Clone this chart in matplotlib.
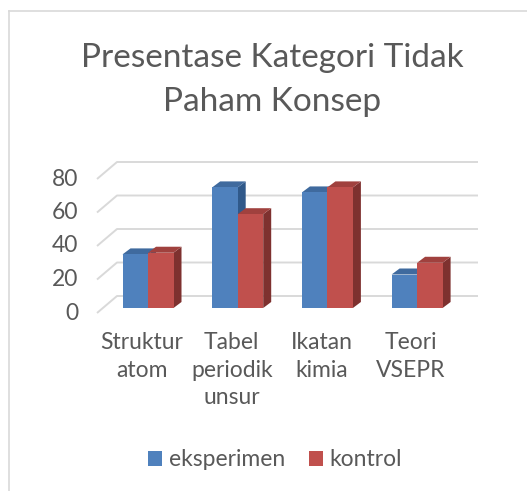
import numpy as np
import matplotlib.pyplot as plt
from matplotlib.patches import Polygon, Patch
from matplotlib.lines import Line2D

plt.rcParams['font.family'] = ['Lato', 'DejaVu Sans']

categories = ["Struktur\natom", "Tabel\nperiodik\nunsur", "Ikatan\nkimia", "Teori\nVSEPR"]
eksperimen = [32, 72, 69, 20]
kontrol = [33, 56, 72, 27]
series_names = ["eksperimen", "kontrol"]
yticks = [0, 20, 40, 60, 80]
title_lines = ["Presentase Kategori Tidak", "Paham Konsep"]

front_cols = ["#4F81BD", "#C0504D"]
top_cols = ["#3F6A9E", "#A0413E"]
side_cols = ["#30598A", "#7E312F"]
grid_col = "#D9D9D9"
text_col = "#595959"

W, H = 527, 491
fig = plt.figure(figsize=(W / 100, H / 100), dpi=100)

# pixel layout of the oblique 3d box
X0, XS = 148, 89.7     # cluster centre 0 in px, px per category
Y0, YS = 308, 1.675    # value 0 in px (bar front plane), px per unit
L, R, T, B = 60, 500, 130, 330
ax = fig.add_axes([L / W, 1 - B / H, (R - L) / W, (B - T) / H])
ax.set_xlim((L - X0) / XS, (R - X0) / XS)
ax.set_ylim((Y0 - B) / YS, (Y0 - T) / YS)
ax.axis("off")

def off(dx, dy):
    # pixel offset (dy up) -> data offset
    return dx / XS, dy / YS

# walls / gridlines
bx, by = off(14, 12)      # back wall relative to bar front plane
fx, fy = off(-6, -5)      # front edge of floor
x_back = (117 - X0) / XS
x_front = (97 - X0) / XS
x_right = (478 - X0) / XS
for v in yticks:
    ax.plot([x_front, x_back, x_right], [v + fy, v + by, v + by],
            color=grid_col, lw=1.4, zorder=1, solid_capstyle="butt")
    ax.text((78 - X0) / XS, v + fy, str(v), ha="right", va="center",
            fontsize=16.5, color=text_col)

# bars
w = 25.5 / XS
ddx, ddy = off(8, 6)
z = 2
for i in range(len(categories)):
    for s, vals in enumerate([eksperimen, kontrol]):
        v = vals[i]
        l = i - w + s * w
        ax.add_patch(Polygon([(l + w, 0), (l + w + ddx, ddy), (l + w + ddx, v + ddy), (l + w, v)],
                             closed=True, facecolor=side_cols[s], edgecolor="none", zorder=z))
        ax.add_patch(Polygon([(l, v), (l + w, v), (l + w + ddx, v + ddy), (l + ddx, v + ddy)],
                             closed=True, facecolor=top_cols[s], edgecolor="none", zorder=z))
        ax.bar(l, v, width=w, align="edge", color=front_cols[s], edgecolor="none", zorder=z + 1)
        z += 2

# category labels
for i, c in enumerate(categories):
    ax.text(i + fx, (Y0 - 332) / YS, c, ha="center", va="top", fontsize=16.5,
            color=text_col, linespacing=1.39)

# title
fig.text(272 / W, 1 - 67 / H, title_lines[0], ha="center", va="baseline", fontsize=24, color=text_col)
fig.text(272 / W, 1 - 111 / H, title_lines[1], ha="center", va="baseline", fontsize=24, color=text_col)

# legend
handles = [Patch(facecolor=front_cols[k], edgecolor="none") for k in range(2)]
fig.legend(handles, series_names, loc="center", bbox_to_anchor=(275 / W, 1 - 460 / H),
           ncol=2, frameon=False, fontsize=16.5, handlelength=0.62, handleheight=0.62,
           handletextpad=0.28, columnspacing=1.05, labelcolor=text_col)

# chart border (top and left visible)
fig.add_artist(Line2D([9 / W, 1], [1 - 11 / H, 1 - 11 / H], color=grid_col, lw=1.2))
fig.add_artist(Line2D([9 / W, 9 / W], [0, 1 - 11 / H], color=grid_col, lw=1.2))

fig.savefig("out.png", dpi=100)
